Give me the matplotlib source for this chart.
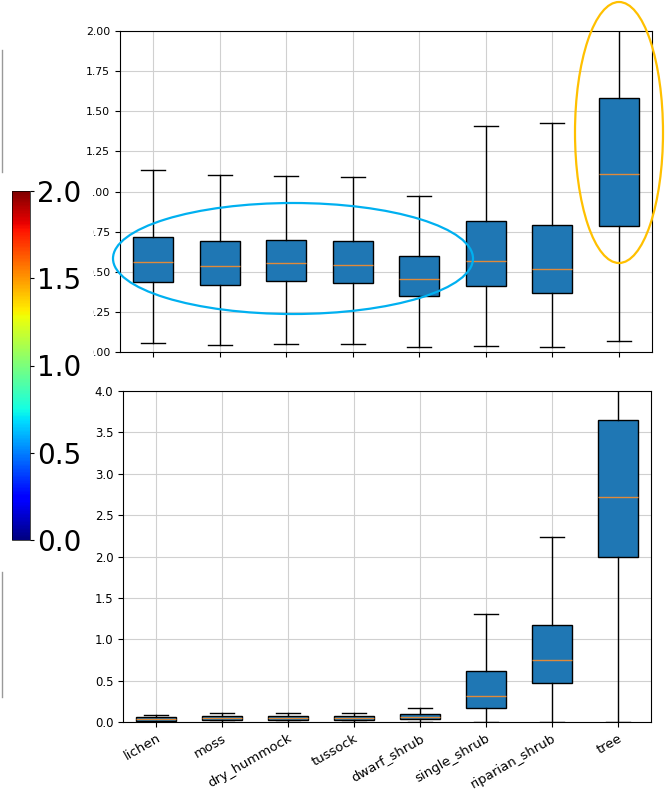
import matplotlib
matplotlib.use('Agg')
import matplotlib.pyplot as plt
from matplotlib.patches import Ellipse
from matplotlib.lines import Line2D
import matplotlib as mpl
import numpy as np

classes = ['lichen', 'moss', 'dry_hummock', 'tussock', 'dwarf_shrub',
           'single_shrub', 'riparian_shrub', 'tree']

# top panel box stats (low whisker, q1, median, q3, high whisker)
top_lo = [0.056, 0.044, 0.050, 0.050, 0.030, 0.040, 0.030, 0.068]
top_q1 = [0.436, 0.417, 0.442, 0.430, 0.349, 0.410, 0.368, 0.785]
top_med = [0.560, 0.535, 0.555, 0.542, 0.455, 0.567, 0.517, 1.110]
top_q3 = [0.716, 0.690, 0.700, 0.690, 0.598, 0.816, 0.790, 1.585]
top_hi = [1.134, 1.100, 1.097, 1.090, 0.972, 1.408, 1.427, 2.300]

# bottom panel box stats
bot_lo = [0.0, 0.0, 0.0, 0.0, 0.0, 0.0, 0.0, 0.0]
bot_q1 = [0.010, 0.020, 0.020, 0.020, 0.035, 0.170, 0.470, 2.000]
bot_med = [0.035, 0.050, 0.050, 0.050, 0.062, 0.320, 0.750, 2.720]
bot_q3 = [0.055, 0.070, 0.070, 0.070, 0.095, 0.620, 1.170, 3.650]
bot_hi = [0.090, 0.110, 0.110, 0.110, 0.170, 1.300, 2.230, 5.000]


def make_stats(lo, q1, med, q3, hi):
    out = []
    for i in range(len(lo)):
        out.append(dict(whislo=lo[i], q1=q1[i], med=med[i], q3=q3[i],
                        whishi=hi[i], fliers=[], label=classes[i]))
    return out


W, H = 666, 793
fig = plt.figure(figsize=(W / 100, H / 100), dpi=100)


def px_rect(x0, y0, x1, y1):
    return [x0 / W, 1 - y1 / H, (x1 - x0) / W, (y1 - y0) / H]


boxkw = dict(patch_artist=True, showfliers=False, widths=0.6, capwidths=0.36,
             boxprops=dict(facecolor='#1f77b4', edgecolor='black', linewidth=1),
             medianprops=dict(color='#e08a3a', linewidth=1),
             whiskerprops=dict(color='black', linewidth=1),
             capprops=dict(color='black', linewidth=1))

ax1 = fig.add_axes(px_rect(120, 31, 652, 352))
ax1.bxp(make_stats(top_lo, top_q1, top_med, top_q3, top_hi), **boxkw)
ax1.set_ylim(0, 2.0)
ax1.set_xlim(0.5, 8.5)
ax1.set_yticks(np.arange(0, 2.01, 0.25))
ax1.set_yticklabels(['%.2f' % v for v in np.arange(0, 2.01, 0.25)], fontsize=7.8)
ax1.set_xticks(range(1, 9))
ax1.set_xticklabels([])
ax1.grid(True, color='#d0d0d0')
ax1.set_axisbelow(True)

ax2 = fig.add_axes(px_rect(123, 391, 651, 722))
ax2.bxp(make_stats(bot_lo, bot_q1, bot_med, bot_q3, bot_hi), **boxkw)
ax2.set_ylim(0, 4.0)
ax2.set_xlim(0.5, 8.5)
ax2.set_yticks(np.arange(0, 4.01, 0.5))
ax2.tick_params(axis='y', labelsize=8.5)
ax2.set_xticks(range(1, 9))
ax2.set_xticklabels(classes, rotation=30, ha='right', fontsize=9.5,
                    rotation_mode='anchor')
ax2.grid(True, color='#d0d0d0')
ax2.set_axisbelow(True)

# overlaid colorbar panel
cover = fig.add_axes(px_rect(0, 185, 93, 548))
cover.set_facecolor('white')
cover.set_xticks([])
cover.set_yticks([])
for s in cover.spines.values():
    s.set_visible(False)
cover.set_zorder(5)

cax = fig.add_axes(px_rect(12, 191, 30, 540))
cax.set_zorder(6)
norm = mpl.colors.Normalize(vmin=0, vmax=2.0)
cb = fig.colorbar(mpl.cm.ScalarMappable(norm=norm, cmap='jet'), cax=cax)
cb.set_ticks([0.0, 0.5, 1.0, 1.5, 2.0])
cb.ax.tick_params(labelsize=20, length=3, pad=2)
cb.outline.set_linewidth(0.5)

# leftover frame edges at the left border
fig.add_artist(Line2D([1.5 / W, 1.5 / W], [1 - 50 / H, 1 - 172 / H],
                      transform=fig.transFigure, color='#999999', lw=1))
fig.add_artist(Line2D([1.5 / W, 1.5 / W], [1 - 572 / H, 1 - 697 / H],
                      transform=fig.transFigure, color='#999999', lw=1))

# highlight ellipses
fig.add_artist(Ellipse((293 / W, 1 - 258.5 / H), 360 / W, 111 / H,
                       transform=fig.transFigure, fill=False,
                       edgecolor='#00b0f0', lw=1.6, zorder=10))
fig.add_artist(Ellipse((619 / W, 1 - 132.5 / H), 88 / W, 261 / H,
                       transform=fig.transFigure, fill=False,
                       edgecolor='#ffc000', lw=1.6, zorder=10))

fig.savefig('out.png', dpi=100)
